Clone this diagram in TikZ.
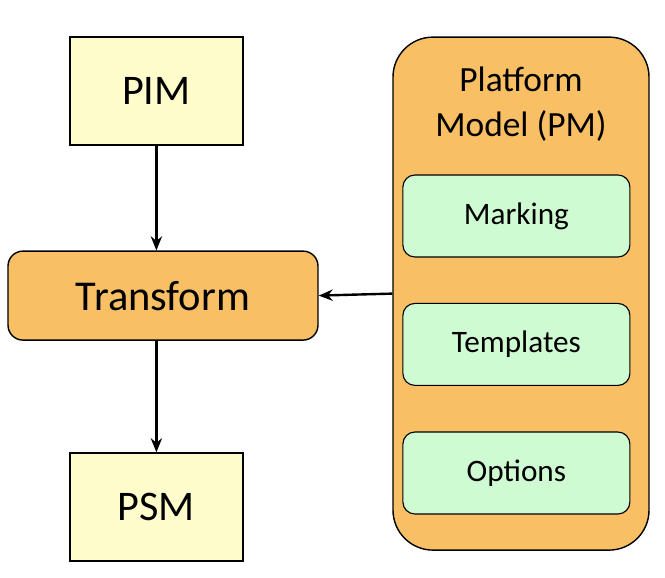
\documentclass[tikz,border=0pt]{standalone}
\usepackage{fontspec}
\setmainfont{Carlito}
\usepackage{tikz}
\usetikzlibrary{arrows.meta,calc}
\definecolor{pimyellow}{HTML}{FDFCCA}
\definecolor{pmorange}{HTML}{F8BF65}
\definecolor{pmgreen}{HTML}{CFFBD2}

\begin{document}
\begin{tikzpicture}[model/.style={draw=black,line width=1pt,fill=pimyellow,minimum width=4.325cm,minimum height=2.7cm,font=\fontsize{30}{34}\selectfont},
    trans/.style={draw=black,line width=1pt,fill=pmorange,rounded corners=0.375cm,minimum width=7.75cm,minimum height=2.225cm,font=\fontsize{30.2}{34}\selectfont},
    part/.style={draw=black,line width=0.8pt,fill=pmgreen,rounded corners=0.3cm,minimum width=5.675cm,minimum height=2.05cm,font=\fontsize{22.2}{26}\selectfont},
    flow/.style={-{Stealth[length=10pt,width=8pt]},line width=1.7pt}]

            % Define the page size
            \useasboundingbox (0,0) rectangle (16.625,-14.425);

            % Platform model container
            \node (pm) [draw=black,line width=1pt,fill=pmorange,rounded corners=1cm,minimum width=6.4cm,minimum height=12.825cm] at (13.025,-7.34) {};
            \node (pmtitle) [align=center,font=\fontsize{25.2}{32}\selectfont] at (13.025,-2.6) {Platform\\Model (PM)};

            \node (marking) [part] at (12.91,-5.4) {Marking};
            \node (templates) [part] at (12.91,-8.61) {Templates};
            \node (options) [part] at (12.91,-11.825) {Options};

            % Models and transformation
            \node (pim) [model] at (3.91,-2.275) {PIM};
            \node (transform) [trans] at (4.075,-7.39) {Transform};
            \node (psm) [model] at (3.91,-12.675) {PSM};

            \draw[flow] (pim.south) -- (pim.south |- transform.north);
            \draw[flow] (psm.north |- transform.south) -- (psm.north);
            \draw[flow] (pm.west) -- (transform.east);

\end{tikzpicture}
\end{document}
